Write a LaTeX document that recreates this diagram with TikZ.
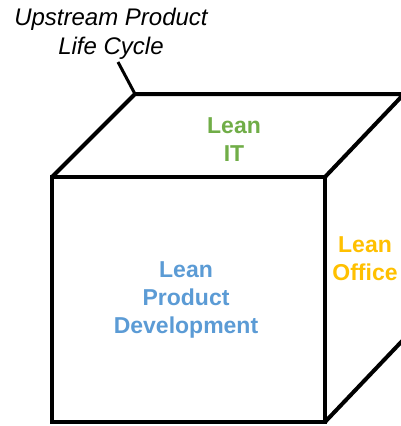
\documentclass[tikz,border=0pt]{standalone}
\usepackage{fontspec}
\setmainfont{Liberation Sans}
\definecolor{leangreen}{RGB}{112,173,71}
\definecolor{leanblue}{RGB}{91,155,213}
\definecolor{leanorange}{RGB}{255,192,0}
\begin{document}
\begin{tikzpicture}[x=1pt,y=-1pt,
    edge/.style={line width=4pt,line join=miter},
    face/.style={font=\fontsize{23}{28}\selectfont\bfseries,align=center}]
    \useasboundingbox (0,0) rectangle (401,426);
    \clip (0,0) rectangle (401,426);
% Corners
    \coordinate (fa) at (52,177);
    \coordinate (fb) at (325,177);
    \coordinate (fc) at (325,422);
    \coordinate (fd) at (52,422);
    \coordinate (ba) at (135,94);
    \coordinate (bb) at (404,94);
    \coordinate (bc) at (404,339);
% Cube
    \draw[edge] (fa) -- (fb) -- (fc) -- (fd) -- cycle;
    \draw[edge] (fa) -- (ba) -- (bb) -- (fb);
    \draw[edge] (bb) -- (bc) -- (fc);
% Faces
    \node[face,text=leangreen] (top) at (234,140) {Lean\\IT};
    \node[face,text=leanblue] (front) at (186,300) {Lean\\Product\\Development};
    \node[face,text=leanorange] (side) at (365,259) {Lean\\Office};
% Lable
    \node[font=\fontsize{24}{29}\selectfont\itshape,align=center] (cycle) at (111,34) {Upstream Product\\Life Cycle};
    \coordinate (tip) at (118,62);
    \draw[line width=3pt] (ba) -- (tip);
\end{tikzpicture}
\end{document}
